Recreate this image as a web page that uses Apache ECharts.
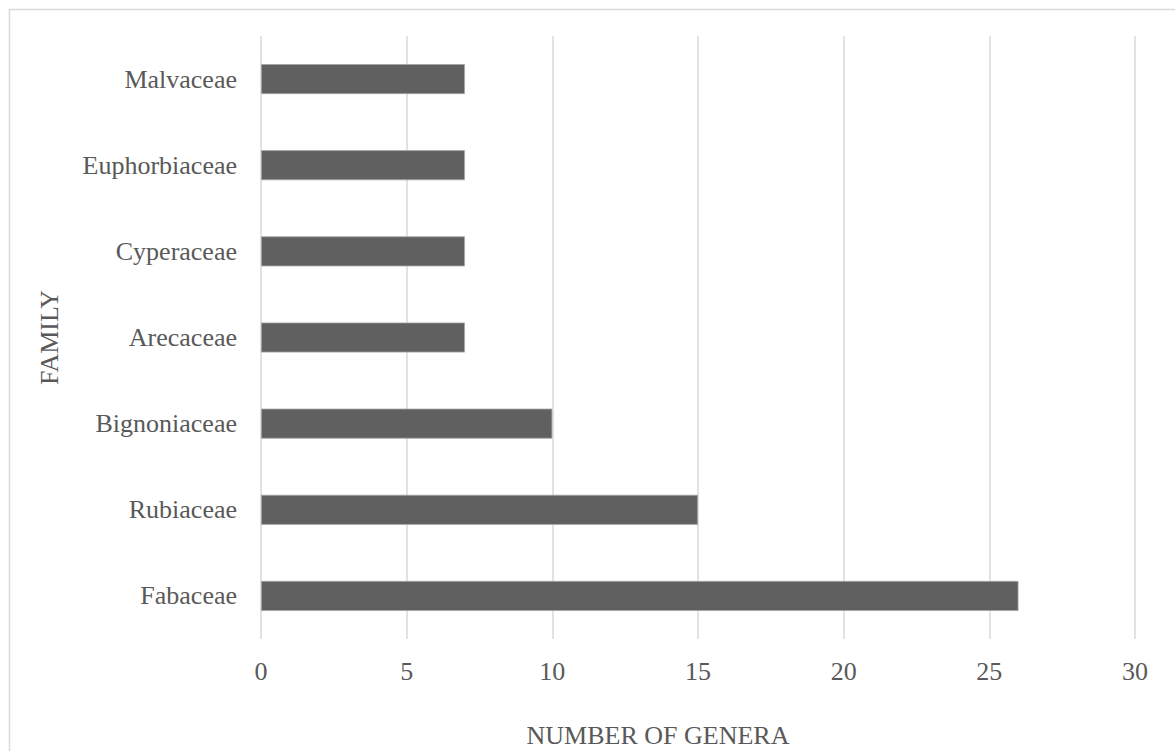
<!DOCTYPE html>
<html>
<head>
<meta charset="utf-8">
<script src="https://cdn.jsdelivr.net/npm/echarts@6/dist/echarts.min.js"></script>
<style>
html,body{margin:0;padding:0;background:#fff;}
#chart{width:1175px;height:751px;}
</style>
</head>
<body>
<div id="chart"></div>
<script>
const categories = ['Fabaceae','Rubiaceae','Bignoniaceae','Arecaceae','Cyperaceae','Euphorbiaceae','Malvaceae'];
const genera = [26, 15, 10, 7, 7, 7, 7];
const xTicks = {min: 0, max: 30, interval: 5};

const font = "'Liberation Serif', 'Times New Roman', serif";
const textColor = '#595959';
const chart = echarts.init(document.getElementById('chart'), null, {renderer: 'svg'});
chart.setOption({
  animation: false,
  backgroundColor: '#fff',
  graphic: [{
    type: 'rect', left: 7, top: 7, silent: true,
    shape: {width: 1250, height: 800},
    style: {fill: 'none', stroke: '#d9d9d9', lineWidth: 1.5}
  }],
  grid: {left: 261, right: 40, top: 36, bottom: 112, containLabel: false, outerBoundsMode: 'none'},
  xAxis: {
    type: 'value', min: xTicks.min, max: xTicks.max, interval: xTicks.interval,
    axisLine: {show: false}, axisTick: {show: false},
    splitLine: {show: true, lineStyle: {color: '#d9d9d9', width: 1.5}},
    axisLabel: {color: textColor, fontFamily: font, fontSize: 26, margin: 19},
    name: 'NUMBER OF GENERA', nameLocation: 'middle', nameGap: 83,
    nameTextStyle: {color: textColor, fontFamily: font, fontSize: 26, padding: [0, 80, 0, 0]}
  },
  yAxis: {
    type: 'category', data: categories,
    axisLine: {show: false}, axisTick: {show: false},
    axisLabel: {color: textColor, fontFamily: font, fontSize: 26, margin: 24},
    name: 'FAMILY', nameLocation: 'middle', nameGap: 199, nameRotate: 90,
    nameTextStyle: {color: textColor, fontFamily: font, fontSize: 26}
  },
  series: [{
    type: 'bar', data: genera, barWidth: 30,
    itemStyle: {color: '#606060', borderColor: '#a6a6a6', borderWidth: 0.8}
  }]
});
</script>
</body>
</html>
